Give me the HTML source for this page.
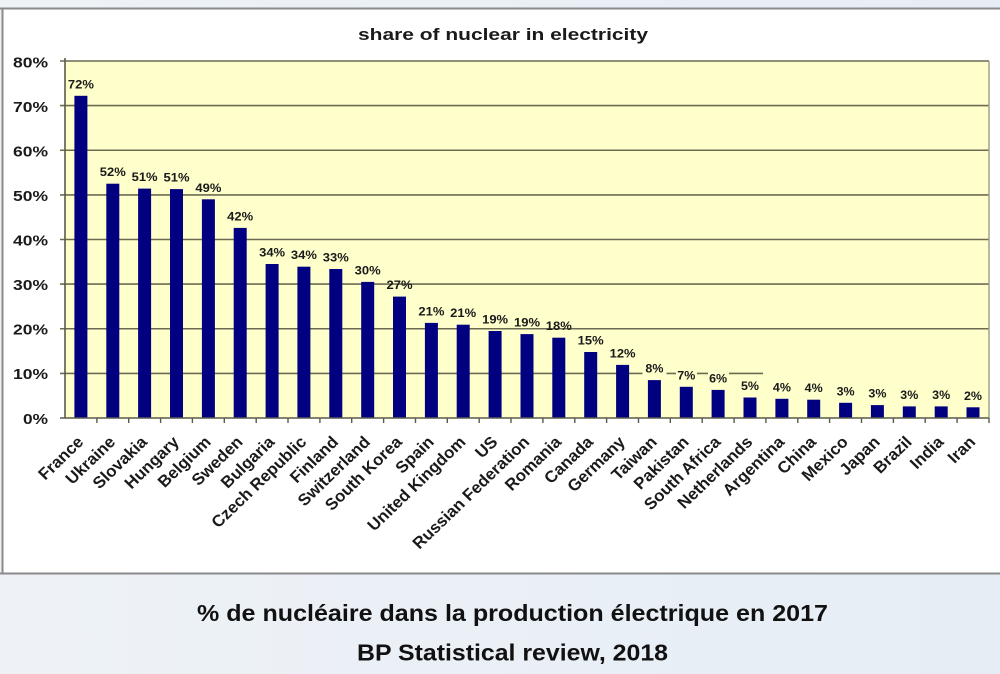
<!DOCTYPE html>
<html><head><meta charset="utf-8"><style>
html,body{margin:0;padding:0;width:1000px;height:674px;overflow:hidden;background:#fff;}
svg{display:block;}
text{font-family:"Liberation Sans",Arial,sans-serif;font-weight:bold;fill:#1a1a1a;}
</style></head><body>
<svg width="1000" height="674" viewBox="0 0 1000 674" xmlns="http://www.w3.org/2000/svg">
<defs>
<linearGradient id="bg" x1="0" y1="0" x2="1" y2="0">
<stop offset="0" stop-color="#eef2f7"/><stop offset="1" stop-color="#e6edf5"/>
</linearGradient>
</defs>
<rect x="0" y="0" width="1000" height="674" fill="url(#bg)"/>
<rect x="3" y="9" width="997" height="564" fill="#ffffff"/>
<line x1="0" y1="8.5" x2="1000" y2="8.5" stroke="#8a8a8a" stroke-width="2"/>
<line x1="0" y1="573.5" x2="1000" y2="573.5" stroke="#8a8a8a" stroke-width="2"/>
<line x1="2.5" y1="8" x2="2.5" y2="574" stroke="#8a8a8a" stroke-width="2"/>

<text x="503" y="40" font-size="17" text-anchor="middle" textLength="290" lengthAdjust="spacingAndGlyphs">share of nuclear in electricity</text>

<rect x="65" y="61" width="924" height="357" fill="#ffffcc"/>
<g stroke="#6b6b52" stroke-width="1.6">
<line x1="60" y1="61" x2="989" y2="61"/>
<line x1="60" y1="105.6" x2="989" y2="105.6"/>
<line x1="60" y1="150.25" x2="989" y2="150.25"/>
<line x1="60" y1="194.9" x2="989" y2="194.9"/>
<line x1="60" y1="239.5" x2="989" y2="239.5"/>
<line x1="60" y1="284.1" x2="989" y2="284.1"/>
<line x1="60" y1="328.75" x2="989" y2="328.75"/>
<line x1="60" y1="373.4" x2="763" y2="373.4"/>
</g>
<line x1="989" y1="61" x2="989" y2="418" stroke="#a0a08a" stroke-width="1.5"/>
<line x1="65" y1="58" x2="65" y2="418" stroke="#5a5a4a" stroke-width="1.6"/>

<g font-size="15" text-anchor="end">
<text x="48" y="67.5" textLength="35" lengthAdjust="spacingAndGlyphs">80%</text>
<text x="48" y="112" textLength="35" lengthAdjust="spacingAndGlyphs">70%</text>
<text x="48" y="156.5" textLength="35" lengthAdjust="spacingAndGlyphs">60%</text>
<text x="48" y="201" textLength="35" lengthAdjust="spacingAndGlyphs">50%</text>
<text x="48" y="245.5" textLength="35" lengthAdjust="spacingAndGlyphs">40%</text>
<text x="48" y="290" textLength="35" lengthAdjust="spacingAndGlyphs">30%</text>
<text x="48" y="334.5" textLength="35" lengthAdjust="spacingAndGlyphs">20%</text>
<text x="48" y="379" textLength="35" lengthAdjust="spacingAndGlyphs">10%</text>
<text x="48" y="424" textLength="25" lengthAdjust="spacingAndGlyphs">0%</text>
</g>

<g fill="#000080">
<rect x="74.4" y="95.8" width="13" height="322.2"/>
<rect x="106.3" y="183.7" width="13" height="234.3"/>
<rect x="138.1" y="188.6" width="13" height="229.4"/>
<rect x="170" y="189.1" width="13" height="228.9"/>
<rect x="201.9" y="199.3" width="13" height="218.7"/>
<rect x="233.7" y="227.9" width="13" height="190.1"/>
<rect x="265.6" y="264" width="13" height="154"/>
<rect x="297.4" y="266.7" width="13" height="151.3"/>
<rect x="329.3" y="269" width="13" height="149"/>
<rect x="361.2" y="281.9" width="13" height="136.1"/>
<rect x="393" y="296.6" width="13" height="121.4"/>
<rect x="424.9" y="322.9" width="13" height="95.1"/>
<rect x="456.7" y="324.7" width="13" height="93.3"/>
<rect x="488.6" y="331" width="13" height="87"/>
<rect x="520.5" y="334.1" width="13" height="83.9"/>
<rect x="552.3" y="337.7" width="13" height="80.3"/>
<rect x="584.2" y="352" width="13" height="66"/>
<rect x="616.1" y="364.9" width="13" height="53.1"/>
<rect x="647.9" y="380.1" width="13" height="37.9"/>
<rect x="679.8" y="386.8" width="13" height="31.2"/>
<rect x="711.6" y="389.9" width="13" height="28.1"/>
<rect x="743.5" y="397.5" width="13" height="20.5"/>
<rect x="775.4" y="398.8" width="13" height="19.2"/>
<rect x="807.2" y="399.7" width="13" height="18.3"/>
<rect x="839.1" y="402.8" width="13" height="15.2"/>
<rect x="870.9" y="405.1" width="13" height="12.9"/>
<rect x="902.8" y="406.4" width="13" height="11.6"/>
<rect x="934.7" y="406.4" width="13" height="11.6"/>
<rect x="966.5" y="407.3" width="13" height="10.7"/>
</g>

<line x1="60" y1="418" x2="989" y2="418" stroke="#5a5a4a" stroke-width="1.6"/>
<g stroke="#5a5a4a" stroke-width="1.4">
<line x1="96.9" y1="418" x2="96.9" y2="423"/><line x1="128.7" y1="418" x2="128.7" y2="423"/>
<line x1="160.6" y1="418" x2="160.6" y2="423"/><line x1="192.4" y1="418" x2="192.4" y2="423"/>
<line x1="224.3" y1="418" x2="224.3" y2="423"/><line x1="256.2" y1="418" x2="256.2" y2="423"/>
<line x1="288" y1="418" x2="288" y2="423"/><line x1="319.9" y1="418" x2="319.9" y2="423"/>
<line x1="351.7" y1="418" x2="351.7" y2="423"/><line x1="383.6" y1="418" x2="383.6" y2="423"/>
<line x1="415.5" y1="418" x2="415.5" y2="423"/><line x1="447.3" y1="418" x2="447.3" y2="423"/>
<line x1="479.2" y1="418" x2="479.2" y2="423"/><line x1="511" y1="418" x2="511" y2="423"/>
<line x1="542.9" y1="418" x2="542.9" y2="423"/><line x1="574.8" y1="418" x2="574.8" y2="423"/>
<line x1="606.6" y1="418" x2="606.6" y2="423"/><line x1="638.5" y1="418" x2="638.5" y2="423"/>
<line x1="670.3" y1="418" x2="670.3" y2="423"/><line x1="702.2" y1="418" x2="702.2" y2="423"/>
<line x1="734.1" y1="418" x2="734.1" y2="423"/><line x1="765.9" y1="418" x2="765.9" y2="423"/>
<line x1="797.8" y1="418" x2="797.8" y2="423"/><line x1="829.6" y1="418" x2="829.6" y2="423"/>
<line x1="861.5" y1="418" x2="861.5" y2="423"/><line x1="893.4" y1="418" x2="893.4" y2="423"/>
<line x1="925.2" y1="418" x2="925.2" y2="423"/><line x1="957.1" y1="418" x2="957.1" y2="423"/>
<line x1="989" y1="418" x2="989" y2="423"/>
</g>

<g fill="#ffffcc">
<rect x="642.5" y="362" width="24" height="14"/>
<rect x="676" y="368" width="21" height="14"/>
<rect x="708" y="370" width="21" height="14"/>
</g>

<g font-size="12" text-anchor="middle">
<text x="80.9" y="88.3" textLength="26" lengthAdjust="spacingAndGlyphs">72%</text>
<text x="112.8" y="176.2" textLength="26" lengthAdjust="spacingAndGlyphs">52%</text>
<text x="144.6" y="181.1" textLength="26" lengthAdjust="spacingAndGlyphs">51%</text>
<text x="176.5" y="181.6" textLength="26" lengthAdjust="spacingAndGlyphs">51%</text>
<text x="208.4" y="191.8" textLength="26" lengthAdjust="spacingAndGlyphs">49%</text>
<text x="240.2" y="220.4" textLength="26" lengthAdjust="spacingAndGlyphs">42%</text>
<text x="272.1" y="256.5" textLength="26" lengthAdjust="spacingAndGlyphs">34%</text>
<text x="303.9" y="259.2" textLength="26" lengthAdjust="spacingAndGlyphs">34%</text>
<text x="335.8" y="261.5" textLength="26" lengthAdjust="spacingAndGlyphs">33%</text>
<text x="367.7" y="274.4" textLength="26" lengthAdjust="spacingAndGlyphs">30%</text>
<text x="399.5" y="289.1" textLength="26" lengthAdjust="spacingAndGlyphs">27%</text>
<text x="431.4" y="315.4" textLength="26" lengthAdjust="spacingAndGlyphs">21%</text>
<text x="463.2" y="317.2" textLength="26" lengthAdjust="spacingAndGlyphs">21%</text>
<text x="495.1" y="323.5" textLength="26" lengthAdjust="spacingAndGlyphs">19%</text>
<text x="527" y="326.6" textLength="26" lengthAdjust="spacingAndGlyphs">19%</text>
<text x="558.8" y="330.2" textLength="26" lengthAdjust="spacingAndGlyphs">18%</text>
<text x="590.7" y="344.5" textLength="26" lengthAdjust="spacingAndGlyphs">15%</text>
<text x="622.6" y="357.4" textLength="26" lengthAdjust="spacingAndGlyphs">12%</text>
<text x="654.4" y="372.6" textLength="18" lengthAdjust="spacingAndGlyphs">8%</text>
<text x="686.3" y="379.3" textLength="18" lengthAdjust="spacingAndGlyphs">7%</text>
<text x="718.1" y="382.4" textLength="18" lengthAdjust="spacingAndGlyphs">6%</text>
<text x="750" y="390" textLength="18" lengthAdjust="spacingAndGlyphs">5%</text>
<text x="781.9" y="391.3" textLength="18" lengthAdjust="spacingAndGlyphs">4%</text>
<text x="813.7" y="392.2" textLength="18" lengthAdjust="spacingAndGlyphs">4%</text>
<text x="845.6" y="395.3" textLength="18" lengthAdjust="spacingAndGlyphs">3%</text>
<text x="877.4" y="397.6" textLength="18" lengthAdjust="spacingAndGlyphs">3%</text>
<text x="909.3" y="398.9" textLength="18" lengthAdjust="spacingAndGlyphs">3%</text>
<text x="941.2" y="398.9" textLength="18" lengthAdjust="spacingAndGlyphs">3%</text>
<text x="973" y="399.8" textLength="18" lengthAdjust="spacingAndGlyphs">2%</text>
</g>

<g font-size="16.3" text-anchor="end">
<text transform="translate(84.4,443) scale(1.04,1) rotate(-45)">France</text>
<text transform="translate(116.3,443) scale(1.04,1) rotate(-45)">Ukraine</text>
<text transform="translate(148.1,443) scale(1.04,1) rotate(-45)">Slovakia</text>
<text transform="translate(180,443) scale(1.04,1) rotate(-45)">Hungary</text>
<text transform="translate(211.9,443) scale(1.04,1) rotate(-45)">Belgium</text>
<text transform="translate(243.7,443) scale(1.04,1) rotate(-45)">Sweden</text>
<text transform="translate(275.6,443) scale(1.04,1) rotate(-45)">Bulgaria</text>
<text transform="translate(307.4,443) scale(1.04,1) rotate(-45)">Czech Republic</text>
<text transform="translate(339.3,443) scale(1.04,1) rotate(-45)">Finland</text>
<text transform="translate(371.2,443) scale(1.04,1) rotate(-45)">Switzerland</text>
<text transform="translate(403,443) scale(1.04,1) rotate(-45)">South Korea</text>
<text transform="translate(434.9,443) scale(1.04,1) rotate(-45)">Spain</text>
<text transform="translate(466.7,443) scale(1.04,1) rotate(-45)">United Kingdom</text>
<text transform="translate(498.6,443) scale(1.04,1) rotate(-45)">US</text>
<text transform="translate(530.5,443) scale(1.04,1) rotate(-45)">Russian Federation</text>
<text transform="translate(562.3,443) scale(1.04,1) rotate(-45)">Romania</text>
<text transform="translate(594.2,443) scale(1.04,1) rotate(-45)">Canada</text>
<text transform="translate(626.1,443) scale(1.04,1) rotate(-45)">Germany</text>
<text transform="translate(657.9,443) scale(1.04,1) rotate(-45)">Taiwan</text>
<text transform="translate(689.8,443) scale(1.04,1) rotate(-45)">Pakistan</text>
<text transform="translate(721.6,443) scale(1.04,1) rotate(-45)">South Africa</text>
<text transform="translate(753.5,443) scale(1.04,1) rotate(-45)">Netherlands</text>
<text transform="translate(785.4,443) scale(1.04,1) rotate(-45)">Argentina</text>
<text transform="translate(817.2,443) scale(1.04,1) rotate(-45)">China</text>
<text transform="translate(849.1,443) scale(1.04,1) rotate(-45)">Mexico</text>
<text transform="translate(880.9,443) scale(1.04,1) rotate(-45)">Japan</text>
<text transform="translate(912.8,443) scale(1.04,1) rotate(-45)">Brazil</text>
<text transform="translate(944.7,443) scale(1.04,1) rotate(-45)">India</text>
<text transform="translate(976.5,443) scale(1.04,1) rotate(-45)">Iran</text>
</g>

<text x="512.5" y="621" font-size="23" text-anchor="middle" textLength="631" lengthAdjust="spacingAndGlyphs" style="fill:#111">% de nucléaire dans la production électrique en 2017</text>
<text x="512.5" y="660.5" font-size="23" text-anchor="middle" textLength="311" lengthAdjust="spacingAndGlyphs" style="fill:#111">BP Statistical review, 2018</text>
</svg>
</body></html>
